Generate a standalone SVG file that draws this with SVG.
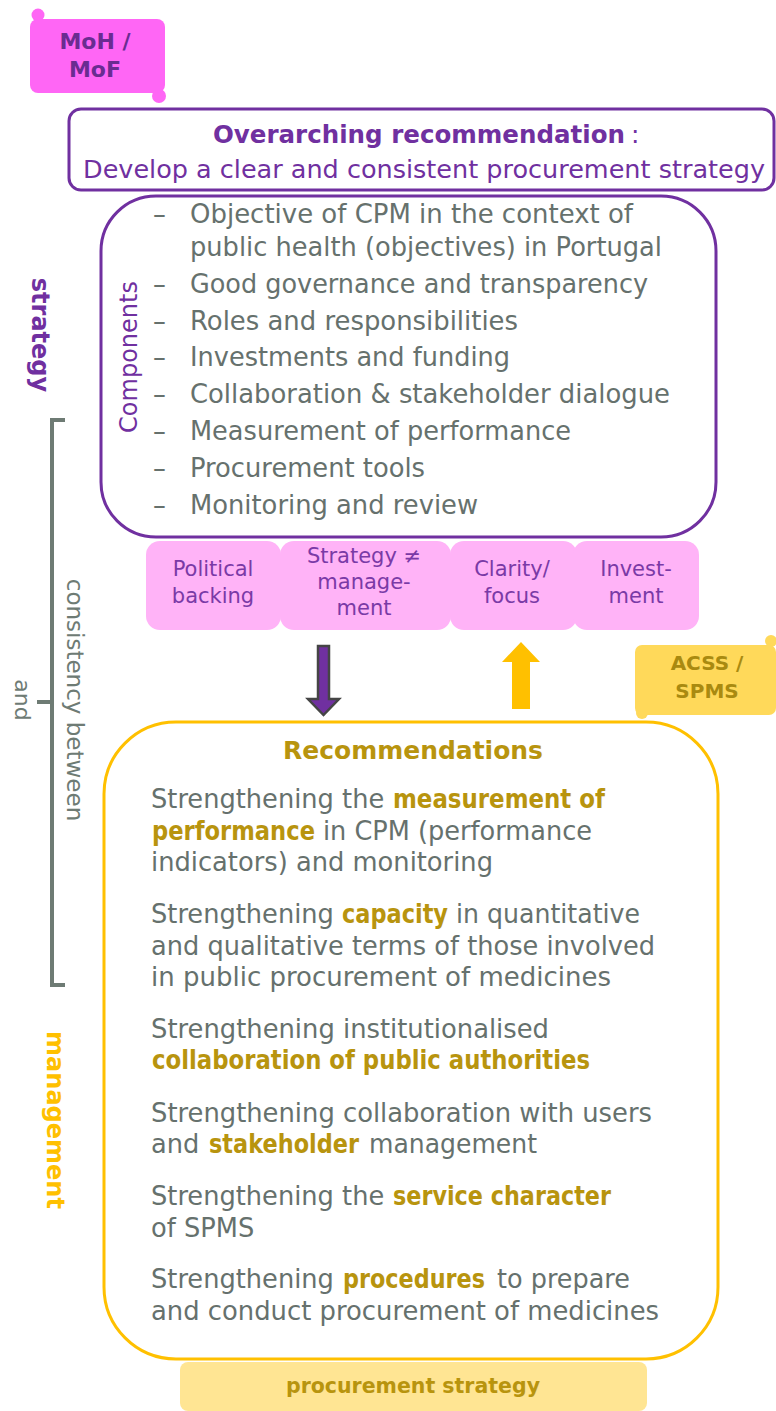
<svg xmlns="http://www.w3.org/2000/svg" width="776" height="1411" viewBox="0 0 776 1411">
<style>
text{font-family:"DejaVu Sans","Verdana",sans-serif}
.pur{fill:#7030A0}
.gr{fill:#66716D;font-size:25.7px}
.ol{fill:#B8940E;font-weight:bold}
.pk{fill:#FFB3F7}
.pkt{fill:#7A3AA6;font-size:21px;text-anchor:middle}
.vt{dominant-baseline:central;text-anchor:middle}
</style>
<rect width="776" height="1411" fill="#fff"/>

<g id="tab-moh">
<circle cx="38" cy="15" r="6.5" fill="#FF66F5"/>
<circle cx="159" cy="96" r="7" fill="#FF66F5"/>
<rect x="30" y="19" width="135" height="74" rx="8" fill="#FF66F5"/>
<text x="95" y="49" text-anchor="middle" font-size="22" font-weight="bold" fill="#6A2C91">MoH /</text>
<text x="95" y="77" text-anchor="middle" font-size="22" font-weight="bold" fill="#6A2C91">MoF</text>
</g>

<g id="overarching">
<rect x="69" y="109" width="705" height="81" rx="12" fill="#fff" stroke="#7030A0" stroke-width="3"/>
<text x="213" y="143" font-size="25" font-weight="bold" class="pur" textLength="412" lengthAdjust="spacingAndGlyphs">Overarching recommendation</text>
<text x="631" y="143" font-size="25" class="pur">:</text>
<text x="424" y="178" text-anchor="middle" font-size="24" class="pur" textLength="682" lengthAdjust="spacingAndGlyphs">Develop a clear and consistent procurement strategy</text>
</g>

<g id="components">
<rect x="101" y="196" width="615" height="341" rx="55" fill="#fff" stroke="#7030A0" stroke-width="3"/>
<text class="pur vt" font-size="24" transform="translate(129 357) rotate(-90)">Components</text>
<g class="gr">
<text x="153" y="223">–</text><text x="190" y="223" textLength="443" lengthAdjust="spacingAndGlyphs">Objective of CPM in the context of</text>
<text x="190" y="256" textLength="472" lengthAdjust="spacingAndGlyphs">public health (objectives) in Portugal</text>
<text x="153" y="293">–</text><text x="190" y="293" textLength="458" lengthAdjust="spacingAndGlyphs">Good governance and transparency</text>
<text x="153" y="330">–</text><text x="190" y="330" textLength="328" lengthAdjust="spacingAndGlyphs">Roles and responsibilities</text>
<text x="153" y="366">–</text><text x="190" y="366" textLength="320" lengthAdjust="spacingAndGlyphs">Investments and funding</text>
<text x="153" y="403">–</text><text x="190" y="403" textLength="480" lengthAdjust="spacingAndGlyphs">Collaboration &amp; stakeholder dialogue</text>
<text x="153" y="440">–</text><text x="190" y="440" textLength="381" lengthAdjust="spacingAndGlyphs">Measurement of performance</text>
<text x="153" y="477">–</text><text x="190" y="477" textLength="235" lengthAdjust="spacingAndGlyphs">Procurement tools</text>
<text x="153" y="514">–</text><text x="190" y="514" textLength="288" lengthAdjust="spacingAndGlyphs">Monitoring and review</text>
</g>
</g>

<g id="label-strategy">
<text class="pur vt" font-size="24" font-weight="bold" transform="translate(40 335) rotate(90)">strategy</text>
</g>

<g id="bracket">
<path d="M65 420 H52 V985 H65 M52 702 H37" fill="none" stroke="#6E7B74" stroke-width="4"/>
<text class="vt" font-size="23" fill="#6E7B74" transform="translate(75 700) rotate(90)">consistency between</text>
<text class="vt" font-size="22" fill="#6E7B74" transform="translate(22 700) rotate(90)">and</text>
</g>

<g id="pink-boxes">
<rect class="pk" x="146" y="541" width="135" height="89" rx="14"/>
<rect class="pk" x="280" y="541" width="171" height="89" rx="14"/>
<rect class="pk" x="450" y="541" width="127" height="89" rx="14"/>
<rect class="pk" x="573" y="541" width="126" height="89" rx="14"/>
<text class="pkt" x="213" y="576">Political</text>
<text class="pkt" x="213" y="603">backing</text>
<text class="pkt" x="364" y="563">Strategy ≠</text>
<text class="pkt" x="364" y="589">manage-</text>
<text class="pkt" x="364" y="615">ment</text>
<text class="pkt" x="512" y="576">Clarity/</text>
<text class="pkt" x="512" y="603">focus</text>
<text class="pkt" x="636" y="576">Invest-</text>
<text class="pkt" x="636" y="603">ment</text>
</g>

<g id="connectors">
<path d="M318 646 H329 V699 H339 L323.5 715 L308 699 H318 Z" fill="#7030A0" stroke="#454545" stroke-width="2.5" stroke-linejoin="miter"/>
<path d="M521 642 L540 662 H530 V709 H512 V662 H502 Z" fill="#FFC000"/>
</g>

<g id="tab-acss">
<circle cx="771" cy="641" r="6" fill="#FFD95A"/>
<circle cx="642" cy="713" r="6" fill="#FFD95A"/>
<rect x="635" y="645" width="141" height="70" rx="7" fill="#FFD95A"/>
<text x="707" y="670" text-anchor="middle" font-size="20" font-weight="bold" fill="#A98A10">ACSS /</text>
<text x="707" y="698" text-anchor="middle" font-size="20" font-weight="bold" fill="#A98A10">SPMS</text>
</g>

<g id="recommendations">
<rect x="104" y="722" width="614" height="637" rx="72" fill="#fff" stroke="#FFC000" stroke-width="3"/>
<text x="413" y="759" text-anchor="middle" font-size="25" class="ol" textLength="260" lengthAdjust="spacingAndGlyphs">Recommendations</text>
<g class="gr">
<text x="151" y="808">Strengthening the</text>
<text x="393" y="808" class="ol" textLength="212" lengthAdjust="spacingAndGlyphs">measurement of</text>
<text x="152" y="840" class="ol" textLength="163" lengthAdjust="spacingAndGlyphs">performance</text>
<text x="323" y="840" textLength="269" lengthAdjust="spacingAndGlyphs">in CPM (performance</text>
<text x="151" y="871" textLength="342" lengthAdjust="spacingAndGlyphs">indicators) and monitoring</text>

<text x="151" y="923">Strengthening</text>
<text x="342" y="923" class="ol" textLength="106" lengthAdjust="spacingAndGlyphs">capacity</text>
<text x="456" y="923" textLength="184" lengthAdjust="spacingAndGlyphs">in quantitative</text>
<text x="151" y="955" textLength="504" lengthAdjust="spacingAndGlyphs">and qualitative terms of those involved</text>
<text x="151" y="986" textLength="460" lengthAdjust="spacingAndGlyphs">in public procurement of medicines</text>

<text x="151" y="1038" textLength="398" lengthAdjust="spacingAndGlyphs">Strengthening institutionalised</text>
<text x="152" y="1069" class="ol" textLength="438" lengthAdjust="spacingAndGlyphs">collaboration of public authorities</text>

<text x="151" y="1122" textLength="501" lengthAdjust="spacingAndGlyphs">Strengthening collaboration with users</text>
<text x="151" y="1153">and</text>
<text x="209" y="1153" class="ol" textLength="150" lengthAdjust="spacingAndGlyphs">stakeholder</text>
<text x="369" y="1153" textLength="168" lengthAdjust="spacingAndGlyphs">management</text>

<text x="151" y="1205">Strengthening the</text>
<text x="393" y="1205" class="ol" textLength="218" lengthAdjust="spacingAndGlyphs">service character</text>
<text x="151" y="1237">of SPMS</text>

<text x="151" y="1288">Strengthening</text>
<text x="343" y="1288" class="ol" textLength="142" lengthAdjust="spacingAndGlyphs">procedures</text>
<text x="497" y="1288" textLength="133" lengthAdjust="spacingAndGlyphs">to prepare</text>
<text x="151" y="1320" textLength="508" lengthAdjust="spacingAndGlyphs">and conduct procurement of medicines</text>
</g>
</g>

<g id="label-management">
<text class="vt" font-size="24" font-weight="bold" fill="#FFC000" transform="translate(55 1120) rotate(90)">management</text>
</g>

<g id="procurement-strategy">
<rect x="180" y="1362" width="467" height="49" rx="8" fill="#FFE593"/>
<text x="413" y="1393" text-anchor="middle" font-size="21" font-weight="bold" fill="#B8940E" textLength="254" lengthAdjust="spacingAndGlyphs">procurement strategy</text>
</g>
</svg>
